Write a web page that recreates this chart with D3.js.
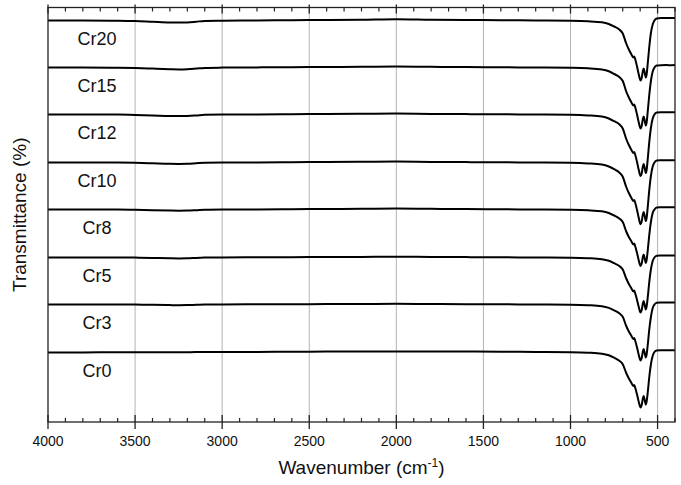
<!DOCTYPE html>
<html>
<head>
<meta charset="utf-8">
<script src="https://cdn.jsdelivr.net/npm/d3@7"></script>
<style>
  html, body { margin: 0; padding: 0; background: #fff; }
  svg { display: block; font-family: "Liberation Sans", Arial, sans-serif; }
</style>
</head>
<body>
<svg id="chart" width="681" height="485"></svg>
<script>
// FTIR spectra of Cr-substituted samples, stacked with a vertical offset.
const sampleNames = ["Cr0", "Cr3", "Cr5", "Cr8", "Cr10", "Cr12", "Cr15", "Cr20"];
const stackOffsets = [0, 48, 95, 143, 190, 238, 285, 332];

const wavenumbers = [
  4000, 3800, 3600, 3500, 3400, 3300, 3250, 3200, 3150, 3100,
  3000, 2800, 2600, 2400, 2200, 2000, 1800, 1600, 1400, 1200,
  1000, 900, 820, 780, 750, 720, 700, 680, 665, 650,
  640, 634, 628, 618, 608, 598, 592, 585, 580, 574,
  568, 563, 556, 548, 538, 528, 518, 505, 480, 450,
  420, 400
];

const tCr0 = [
  90, 90.1, 90.2, 90.2, 90.2, 90.2, 90.2, 90.3, 90.4, 90.4,
  90.5, 90.6, 90.8, 90.9, 91.0, 91.1, 91.0, 90.9, 90.8, 90.6,
  90.3, 89.8, 88.8, 87.2, 84.8, 81.8, 78.2, 69.5, 64, 59.5,
  56.5, 57.5, 54.5, 48, 40.5, 35, 37, 43.5, 46.5, 42.5,
  38, 41, 51, 65, 78.5, 86.8, 90.5, 92, 92.2, 92.3,
  92.2, 92.3
];
const tCr3 = [
  90, 90, 90, 89.9, 89.7, 89.4, 89.3, 89.4, 89.7, 90.0,
  90.1, 90.2, 90.3, 90.4, 90.5, 90.7, 90.5, 90.3, 90.2, 90.0,
  89.8, 89.3, 88.3, 86.6, 84.2, 81.2, 77.7, 68.5, 63, 58.5,
  55.5, 56.5, 53.5, 47, 39.5, 34, 36, 42.5, 45.5, 41.5,
  37, 40, 50.5, 64.5, 78, 86.5, 90, 91.8, 92, 92.1,
  92, 92.1
];
const tCr5 = [
  90, 90, 90, 89.9, 89.6, 89.2, 89.1, 89.2, 89.6, 89.9,
  90.1, 90.2, 90.3, 90.5, 90.6, 90.8, 90.6, 90.4, 90.2, 90.0,
  89.8, 89.3, 88.3, 86.7, 84.3, 81.5, 78, 69, 63.5, 59,
  56, 57, 54, 47.5, 40.5, 35, 37, 43.5, 46.5, 42.5,
  38, 41, 51, 65, 78.5, 86.5, 90, 91.8, 92, 92.1,
  92, 92.1
];
const tCr8 = [
  90, 90, 89.9, 89.7, 89.3, 88.9, 88.8, 88.9, 89.3, 89.8,
  90.0, 90.1, 90.3, 90.5, 90.7, 91.0, 90.7, 90.4, 90.2, 90.0,
  89.7, 89.2, 88.2, 86.5, 84, 81, 77.5, 68, 62.5, 58,
  55, 56, 53, 46.5, 39, 33.5, 35.5, 42, 45, 41,
  36.5, 39.5, 50, 64, 78, 86.5, 90, 92, 92.2, 92.3,
  92.2, 92.3
];
const tCr10 = [
  90, 90, 89.9, 89.7, 89.2, 88.7, 88.6, 88.7, 89.2, 89.7,
  90.0, 90.1, 90.3, 90.5, 90.7, 90.9, 90.6, 90.4, 90.2, 90.0,
  89.7, 89.1, 88.0, 86.0, 83.3, 80.0, 75.8, 65.5, 59.5, 54.5,
  51.5, 52.5, 49.5, 42.5, 34.5, 28.3, 30.5, 37.5, 40.5, 36.5,
  31.5, 34.5, 46.5, 62, 77, 86, 90, 92, 92.2, 92.3,
  92.2, 92.3
];
const tCr12 = [
  90, 90, 89.9, 89.6, 89.1, 88.5, 88.4, 88.5, 89.0, 89.7,
  90.0, 90.1, 90.3, 90.5, 90.7, 90.9, 90.6, 90.4, 90.2, 90.0,
  89.7, 89.1, 88.0, 86.0, 83.3, 80.2, 76.0, 65.5, 59.5, 54.5,
  51.5, 52.5, 49.5, 42.5, 34.5, 28.5, 30.5, 37.5, 40.5, 36.5,
  31.5, 34.5, 46.5, 62, 77, 86, 90, 92, 92.3, 92.3,
  92.2, 92.3
];
const tCr15 = [
  90, 90, 89.8, 89.5, 88.9, 88.3, 88.1, 88.3, 88.9, 89.6,
  89.9, 90.1, 90.3, 90.5, 90.7, 91.0, 90.7, 90.4, 90.2, 90.0,
  89.7, 89.2, 88.0, 86.2, 83.5, 80.5, 76.5, 66, 60, 55,
  52, 53, 50, 43, 35, 29, 31, 38, 41, 37,
  32, 35, 47, 62, 77, 86, 90, 92, 92.3, 92.4,
  92.3, 92.4
];
const tCr20 = [
  90, 90, 89.8, 89.5, 88.8, 88.1, 87.9, 88.1, 88.8, 89.6,
  89.8, 90.0, 90.3, 90.5, 90.8, 91.3, 90.8, 90.5, 90.3, 90.0,
  89.7, 89.2, 88.2, 86.5, 84, 81, 77, 67, 61, 56,
  53, 54, 51, 44, 36, 30, 32, 39, 42, 38,
  33, 36, 48, 63, 78, 86, 90, 92, 92.5, 92.6,
  92.5, 92.6
];
const transmittance = [tCr0, tCr3, tCr5, tCr8, tCr10, tCr12, tCr15, tCr20];

const xTickValues = [4000, 3500, 3000, 2500, 2000, 1500, 1000, 500];
const xMinorTicks = d3.range(400, 4001, 100);

// layout
const svg = d3.select("#chart");
const plotLeft = 48, plotRight = 675, plotTop = 7.5, plotBottom = 422;

const x = d3.scaleLinear().domain([4000, 400]).range([plotLeft, plotRight]);
const y = d3.scaleLinear().domain([20.5, 435]).range([plotBottom, plotTop]);

// vertical grid lines at the major ticks
svg.append("g")
  .selectAll("line")
  .data(xTickValues.filter(d => d !== 4000))
  .join("line")
  .attr("x1", d => x(d)).attr("x2", d => x(d))
  .attr("y1", plotTop).attr("y2", plotBottom)
  .attr("stroke", "#b4b4b4")
  .attr("stroke-width", 1);

// spectra
const line = d3.line()
  .x(d => x(d[0]))
  .y(d => y(d[1]))
  .curve(d3.curveMonotoneX);

svg.append("clipPath").attr("id", "plot-clip")
  .append("rect")
  .attr("x", plotLeft).attr("y", plotTop)
  .attr("width", plotRight - plotLeft).attr("height", plotBottom - plotTop);

const spectra = svg.append("g").attr("clip-path", "url(#plot-clip)");
sampleNames.forEach((name, i) => {
  const pts = wavenumbers.map((w, j) => [w, transmittance[i][j] + stackOffsets[i]]);
  spectra.append("path")
    .datum(pts)
    .attr("d", line)
    .attr("fill", "none")
    .attr("stroke", "#000")
    .attr("stroke-width", 2)
    .attr("stroke-linejoin", "round");
});

// sample labels under each trace's baseline
svg.append("g")
  .selectAll("text")
  .data(sampleNames)
  .join("text")
  .attr("x", 97)
  .attr("y", (d, i) => y(transmittance[i][0] + stackOffsets[i]) + 24)
  .attr("text-anchor", "middle")
  .attr("font-size", 18)
  .attr("fill", "#111")
  .text(d => d);

// frame
svg.append("rect")
  .attr("x", plotLeft).attr("y", plotTop)
  .attr("width", plotRight - plotLeft).attr("height", plotBottom - plotTop)
  .attr("fill", "none")
  .attr("stroke", "#222")
  .attr("stroke-width", 1.3);

// bottom axis: minor ticks inside, major ticks crossing the axis line
const bottomAxis = svg.append("g");
bottomAxis.selectAll("line.minor")
  .data(xMinorTicks.filter(d => d % 500 !== 0))
  .join("line").attr("class", "minor")
  .attr("x1", d => x(d)).attr("x2", d => x(d))
  .attr("y1", plotBottom).attr("y2", plotBottom - 4)
  .attr("stroke", "#222").attr("stroke-width", 1.2);
bottomAxis.selectAll("line.major")
  .data(xTickValues)
  .join("line").attr("class", "major")
  .attr("x1", d => x(d)).attr("x2", d => x(d))
  .attr("y1", plotBottom - 7).attr("y2", plotBottom + 7)
  .attr("stroke", "#222").attr("stroke-width", 1.3);
bottomAxis.selectAll("text")
  .data(xTickValues)
  .join("text")
  .attr("x", d => x(d))
  .attr("y", plotBottom + 24)
  .attr("text-anchor", "middle")
  .attr("font-size", 14)
  .attr("fill", "#111")
  .text(d => d);

// top axis ticks pointing down into the plot
const topAxis = svg.append("g");
topAxis.selectAll("line.minor")
  .data(xMinorTicks.filter(d => d % 500 !== 0))
  .join("line").attr("class", "minor")
  .attr("x1", d => x(d)).attr("x2", d => x(d))
  .attr("y1", plotTop).attr("y2", plotTop + 4)
  .attr("stroke", "#222").attr("stroke-width", 1.2);
topAxis.selectAll("line.major")
  .data(xTickValues)
  .join("line").attr("class", "major")
  .attr("x1", d => x(d)).attr("x2", d => x(d))
  .attr("y1", plotTop - 3).attr("y2", plotTop + 6)
  .attr("stroke", "#222").attr("stroke-width", 1.3);

// axis titles
const xTitle = svg.append("text")
  .attr("x", (plotLeft + plotRight) / 2)
  .attr("y", 474)
  .attr("text-anchor", "middle")
  .attr("font-size", 19)
  .attr("fill", "#111");
xTitle.append("tspan").text("Wavenumber (cm");
xTitle.append("tspan").attr("dy", -7).attr("font-size", 12).text("-1");
xTitle.append("tspan").attr("dy", 7).text(")");

svg.append("text")
  .attr("transform", `translate(26, ${(plotTop + plotBottom) / 2}) rotate(-90)`)
  .attr("text-anchor", "middle")
  .attr("font-size", 19)
  .attr("fill", "#111")
  .text("Transmittance (%)");
</script>
</body>
</html>
